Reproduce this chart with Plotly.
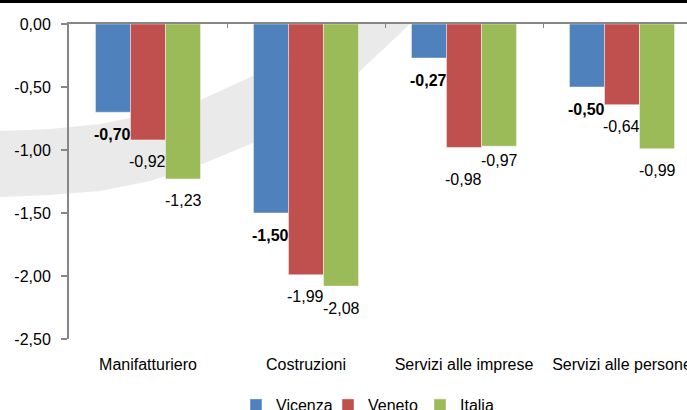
import plotly.graph_objects as go

# ---- data ----
categories = ["Manifatturiero", "Costruzioni", "Servizi alle imprese", "Servizi alle persone"]
series_names = ["Vicenza", "Veneto", "Italia"]
vicenza = [-0.70, -1.50, -0.27, -0.50]
veneto = [-0.92, -1.99, -0.98, -0.64]
italia = [-1.23, -2.08, -0.97, -0.99]
y_tick_values = [0.0, -0.5, -1.0, -1.5, -2.0, -2.5]
y_tick_labels = ["0,00", "-0,50", "-1,00", "-1,50", "-2,00", "-2,50"]

# ---- style ----
colors = ["#4F81BD", "#C0504D", "#9BBB59"]
FONT = "Liberation Sans, Arial, sans-serif"
W, H = 687, 410
ML, MR, MT, MB = 69, 0, 24, 71
PW, PH = W - ML - MR, H - MT - MB
CAT_PX = 158.0  # pixel width of one category
x_range = [-0.5, -0.5 + PW / CAT_PX]

def to_paper(px, py):
    return (px - ML) / PW, (H - MB - py) / PH

fig = go.Figure()
all_series = [vicenza, veneto, italia]
for name, vals, col in zip(series_names, all_series, colors):
    fig.add_trace(go.Bar(
        x=categories, y=vals, name=name,
        marker=dict(color=col, line=dict(color="rgba(255,255,255,0.55)", width=0.8)),
    ))

# data labels below each bar
label_shift = {("Veneto", 2): -32, ("Italia", 2): -14}
bar_px = CAT_PX * (1 - 0.335) / 3
annotations = []
for si, (name, vals) in enumerate(zip(series_names, all_series)):
    for ci, v in enumerate(vals):
        txt = f"{v:.2f}".replace(".", ",")
        if name == "Vicenza":
            txt = f"<b>{txt}</b>"
        annotations.append(dict(
            x=categories[ci], y=v, xref="x", yref="y", text=txt, showarrow=False,
            xshift=(si - 1) * bar_px - (1 if si == 1 else 0),
            yshift=label_shift.get((name, ci), -22),
            font=dict(family=FONT, size=16, color="#000000"),
            xanchor="center", yanchor="middle",
        ))

# watermark swoosh (decorative background)
upper = [(0, 131), (50, 129), (100, 124), (150, 114), (200, 100), (253, 76), (300, 50), (340, 24)]
lower = [(410, 24), (358, 73), (300, 114), (253, 143), (200, 165), (150, 181), (100, 191), (50, 195), (0, 197)]
pts = [to_paper(*p) for p in upper + lower]
path = "M " + " L ".join(f"{x:.4f},{y:.4f}" for x, y in pts) + " Z"
shapes = [
    dict(type="path", path=path, xref="paper", yref="paper", layer="below",
         fillcolor="#EAEAEA", line=dict(width=0)),
]
# black rule at top of the image
x0, y0 = to_paper(0, 0)
x1, y1 = to_paper(W, 3)
shapes.append(dict(type="rect", xref="paper", yref="paper", x0=x0, x1=x1, y0=y1, y1=y0,
                   fillcolor="#000000", line=dict(width=0), layer="above"))

leg_x, leg_y = to_paper(236, 405)

fig.update_layout(
    width=W, height=H,
    margin=dict(l=ML, r=MR, t=MT, b=MB, autoexpand=False),
    paper_bgcolor="white", plot_bgcolor="rgba(0,0,0,0)",
    barmode="group", bargap=0.335, bargroupgap=0,
    font=dict(family=FONT, size=16, color="#000000"),
    showlegend=True,
    legend=dict(orientation="h", x=leg_x, xanchor="left", y=leg_y, yanchor="middle",
                font=dict(family=FONT, size=16, color="#000000"),
                bgcolor="rgba(0,0,0,0)", traceorder="normal",
                entrywidth=47, entrywidthmode="pixels"),
    xaxis=dict(type="category", range=x_range, showline=False, ticks="",
               showgrid=False, zeroline=False, automargin=False,
               tickfont=dict(family=FONT, size=16, color="#000000"),
               ticklabelstandoff=14),
    xaxis2=dict(overlaying="x", side="top", anchor="y", range=x_range,
                tickmode="array", tickvals=[0.5, 1.5, 2.5], showticklabels=False,
                ticks="inside", ticklen=4, tickcolor="#868686", tickwidth=1,
                showline=True, linecolor="#868686", linewidth=2,
                showgrid=False, zeroline=False),
    yaxis=dict(range=[-2.5, 0], tickmode="array", tickvals=y_tick_values,
               ticktext=y_tick_labels, ticks="outside", ticklen=6,
               tickcolor="#868686", tickwidth=1.5,
               showline=True, linecolor="#868686", linewidth=2,
               showgrid=False, zeroline=False, automargin=False,
               tickfont=dict(family=FONT, size=16, color="#000000"),
               ticklabelstandoff=7),
    annotations=annotations,
    shapes=shapes,
)
# invisible trace so the top axis is rendered
fig.add_trace(go.Scatter(x=[x_range[0]], y=[0], xaxis="x2", yaxis="y", mode="markers",
                         marker=dict(opacity=0), showlegend=False, hoverinfo="skip"))

fig.write_html("out.html",
               config={"displayModeBar": False},
               post_script="document.body.style.margin='0';document.body.style.overflow='hidden';")
